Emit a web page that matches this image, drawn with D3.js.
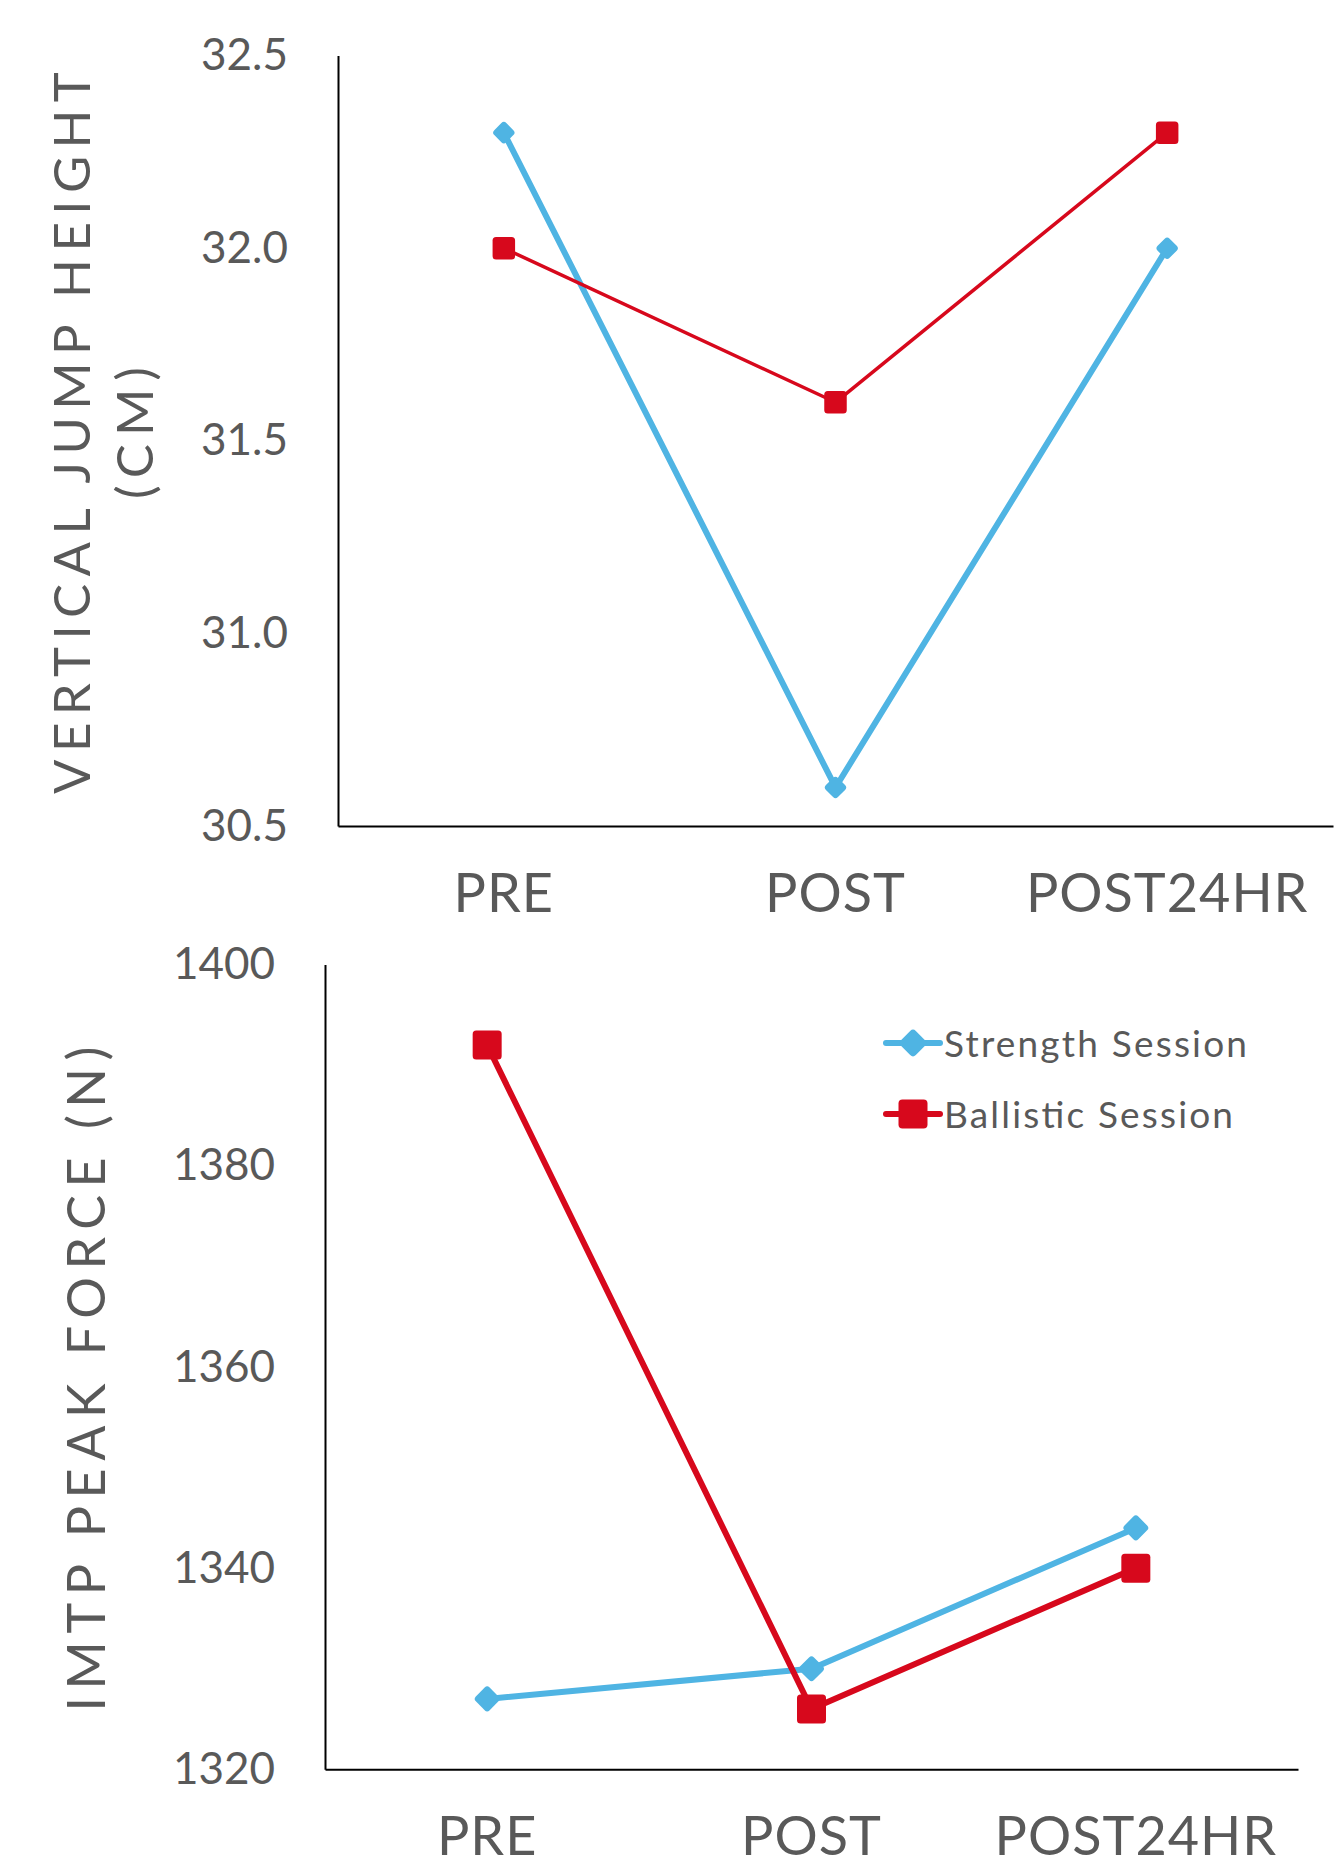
<!DOCTYPE html>
<html>
<head>
<meta charset="utf-8">
<script src="https://cdn.jsdelivr.net/npm/d3@7"></script>
<style>
  body { margin: 0; background: #fff; }
  svg { display: block; }
</style>
</head>
<body>
<div id="chart"></div>
<script>
// data
const categories = ["PRE", "POST", "POST24HR"];
const seriesNames = ["Strength Session", "Ballistic Session"];

const jumpStrength = [32.3, 30.6, 32.0];
const jumpBallistic = [32.0, 31.6, 32.3];
const jumpTicks = [30.5, 31.0, 31.5, 32.0, 32.5];

const forceStrength = [1327, 1330, 1344];
const forceBallistic = [1392, 1326, 1340];
const forceTicks = [1320, 1340, 1360, 1380, 1400];

const blue = "#4fb4e3", red = "#d7081c", grey = "#595959";
const font = "Lato, 'Open Sans', sans-serif";

const width = 1335, height = 1856;

const svg = d3.select("#chart")
    .append("svg")
    .attr("width", width)
    .attr("height", height);

// one panel = axes + two lines with markers
function drawPanel(opt) {
    const x = d3.scaleBand()
        .domain(categories)
        .range([opt.left, opt.right]);

    const y = d3.scaleLinear()
        .domain(opt.domain)
        .range([opt.bottom, opt.top]);

    const g = svg.append("g");

    // y axis
    const yAxis = g.append("g")
        .attr("transform", "translate(" + opt.left + ",0)")
        .call(d3.axisLeft(y).tickValues(opt.ticks).tickFormat(opt.format).tickSize(0).tickSizeOuter(0).tickPadding(50));
    yAxis.select(".domain").attr("stroke", "#000").attr("stroke-width", 2);
    yAxis.selectAll("text")
        .attr("fill", grey)
        .style("font-family", font)
        .style("font-size", "44px");

    // x axis
    const xAxis = g.append("g")
        .attr("transform", "translate(0," + opt.bottom + ")")
        .call(d3.axisBottom(x).tickSize(0).tickSizeOuter(0));
    xAxis.select(".domain").attr("stroke", "#000").attr("stroke-width", 2);
    xAxis.selectAll("text")
        .attr("dy", null)
        .attr("y", 86)
        .attr("fill", grey)
        .style("font-family", font)
        .style("font-size", "54px")
        .style("letter-spacing", "1px");

    // axis title (rotated lines)
    opt.title.forEach(function (t) {
        g.append("text")
            .attr("transform", "translate(" + t.x + "," + opt.titleCenter + ") rotate(-90)")
            .attr("text-anchor", "middle")
            .attr("textLength", t.len)
            .attr("lengthAdjust", "spacing")
            .attr("fill", grey)
            .style("font-family", font)
            .style("font-size", opt.titleSize + "px")
            .text(t.text);
    });

    const line = d3.line()
        .x((d, i) => x(categories[i]) + x.bandwidth() / 2)
        .y(d => y(d));

    const series = [
        {values: opt.strength, color: blue, width: opt.blueWidth, shape: "diamond", size: opt.diamond},
        {values: opt.ballistic, color: red, width: opt.redWidth, shape: "square", size: opt.square}
    ];

    series.forEach(function (s) {
        g.append("path")
            .datum(s.values)
            .attr("d", line)
            .attr("fill", "none")
            .attr("stroke", s.color)
            .attr("stroke-width", s.width)
            .attr("stroke-linejoin", "round");

        g.selectAll(null)
            .data(s.values)
            .join("rect")
            .attr("x", -s.size / 2)
            .attr("y", -s.size / 2)
            .attr("width", s.size)
            .attr("height", s.size)
            .attr("rx", 3.5)
            .attr("fill", s.color)
            .attr("transform", function (d, i) {
                const cx = x(categories[i]) + x.bandwidth() / 2;
                return "translate(" + cx + "," + y(d) + ")" + (s.shape === "diamond" ? " rotate(45)" : "");
            });
    });
}

// top panel: vertical jump height
drawPanel({
    left: 338, right: 1333, top: 55.6, bottom: 826,
    domain: [30.5, 32.5], ticks: jumpTicks, format: d3.format(".1f"),
    strength: jumpStrength, ballistic: jumpBallistic,
    blueWidth: 6, redWidth: 3.5, diamond: 17, square: 22.5,
    titleCenter: 433, titleSize: 51,
    title: [
        {text: "VERTICAL JUMP HEIGHT", x: 90, len: 722},
        {text: "(CM)", x: 153, len: 132}
    ]
});

// bottom panel: IMTP peak force
drawPanel({
    left: 325, right: 1298, top: 964.6, bottom: 1769.3,
    domain: [1320, 1400], ticks: forceTicks, format: d3.format("d"),
    strength: forceStrength, ballistic: forceBallistic,
    blueWidth: 6, redWidth: 6, diamond: 19.5, square: 29,
    titleCenter: 1379, titleSize: 52,
    title: [
        {text: "IMTP PEAK FORCE (N)", x: 105, len: 665}
    ]
});

// legend inside the bottom panel
const legend = svg.append("g").attr("transform", "translate(884,1043)");
const legendItems = [
    {name: seriesNames[0], color: blue, shape: "diamond", len: 303},
    {name: seriesNames[1], color: red, shape: "square", len: 289}
];
legendItems.forEach(function (d, i) {
    const row = legend.append("g").attr("transform", "translate(0," + (i * 71) + ")");
    row.append("line")
        .attr("x1", 2).attr("x2", 56)
        .attr("stroke", d.color)
        .attr("stroke-width", 6)
        .attr("stroke-linecap", "round");
    const s = d.shape === "diamond" ? 21 : 29;
    row.append("rect")
        .attr("x", -s / 2).attr("y", -s / 2)
        .attr("width", s).attr("height", s)
        .attr("rx", 4)
        .attr("fill", d.color)
        .attr("transform", "translate(29,0)" + (d.shape === "diamond" ? " rotate(45)" : ""));
    row.append("text")
        .attr("x", 60)
        .attr("y", 14)
        .attr("textLength", d.len)
        .attr("lengthAdjust", "spacing")
        .attr("fill", grey)
        .style("font-family", font)
        .style("font-size", "37px")
        .text(d.name);
});
</script>
</body>
</html>
